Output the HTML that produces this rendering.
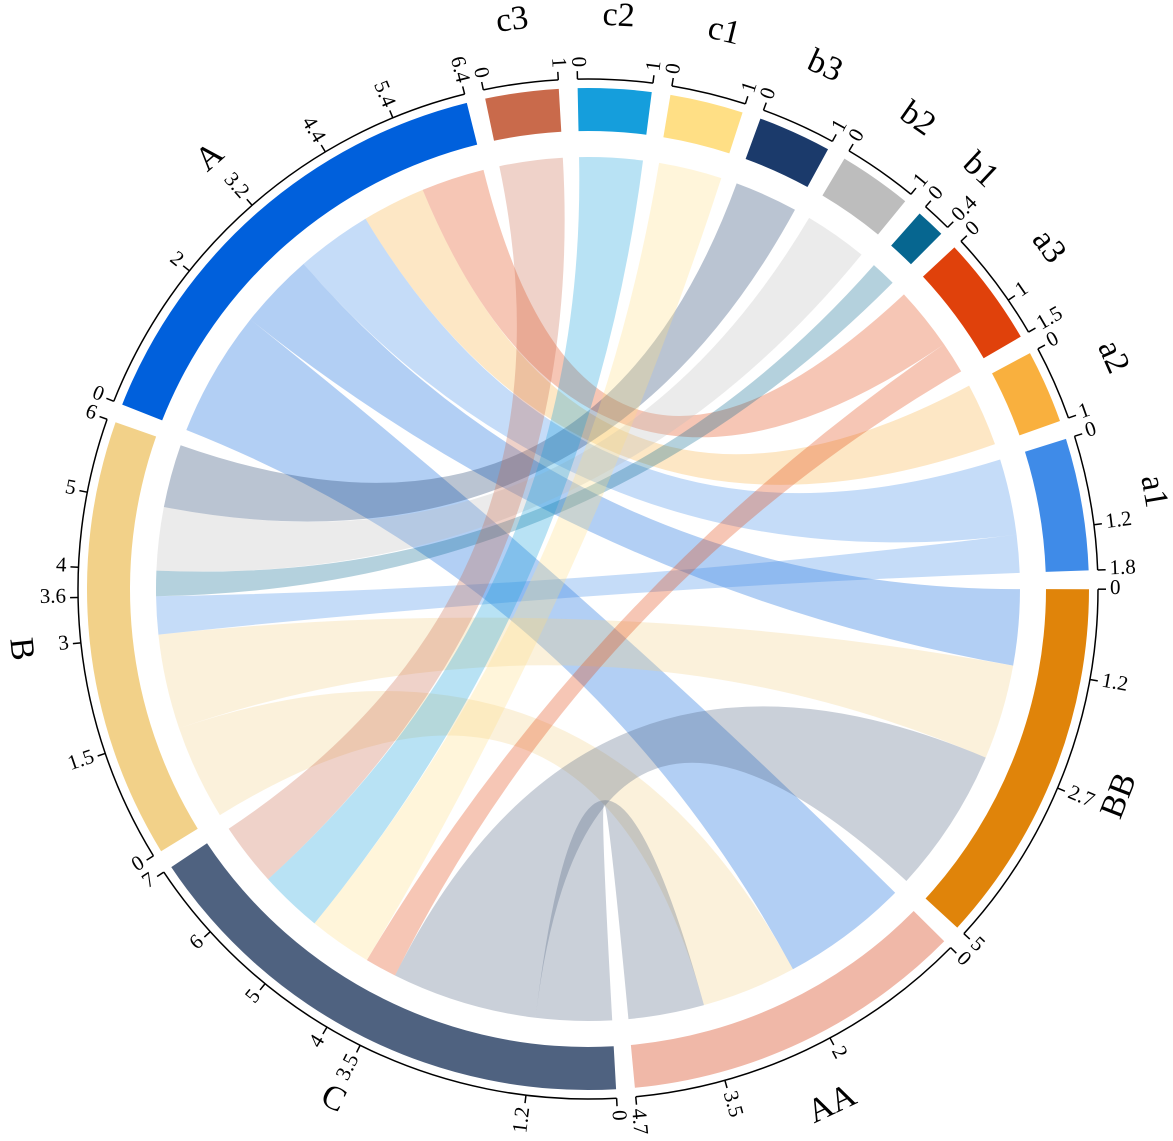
<!DOCTYPE html>
<html><head><meta charset="utf-8">
<style>html,body{margin:0;padding:0;background:#fff;}svg{display:block;}</style>
</head><body>
<svg id="s" width="1173" height="1141" viewBox="0 0 1173 1141" xmlns="http://www.w3.org/2000/svg"></svg>
<script>
const cx=588, cy=589, s=8.5, R0=458, R1=501, RA=510, RC=432;
const secs=[
 ["A",6.4,"#0060dc",[0,2,3.2,4.4,5.4,6.4]],
 ["c3",1,"#c96a4b",[0,1]],
 ["c2",1,"#159edc",[0,1]],
 ["c1",1,"#ffdf85",[0,1]],
 ["b3",1,"#1b3a6b",[0,1]],
 ["b2",1,"#bdbdbd",[0,1]],
 ["b1",0.4,"#066690",[0,0.4]],
 ["a3",1.5,"#e0410b",[0,1,1.5]],
 ["a2",1,"#f9b03e",[0,1]],
 ["a1",1.8,"#3f8be8",[0,1.2,1.8]],
 ["BB",5,"#e0840a",[0,1.2,2.7,5]],
 ["AA",4.7,"#f0b8a8",[0,2,3.5,4.7]],
 ["C",7,"#4f6280",[0,1.2,3.5,4,5,6,7]],
 ["B",6,"#f2d189",[0,1.5,3,3.6,4,5,6]]
];
const S={};
const G=(360-38.8*s)/14;
let a=291.6;
for(const q of secs){S[q[0]]={st:a,n:q[1],col:q[2],ticks:q[3]};a+=q[1]*s+G;}
const rad=d=>d*Math.PI/180;
const P=(r,d)=>[(cx+r*Math.sin(rad(d))).toFixed(2),(cy-r*Math.cos(rad(d))).toFixed(2)];
const ang=(n,v)=>S[n].st+v*s;
let h="";
const ch=[
 ["A",0,2,"AA",0,2,"A"],["A",2,3.2,"BB",0,1.2,"A"],["A",3.2,4.4,"a1",0,1.2,"a1"],
 ["A",4.4,5.4,"a2",0,1,"a2"],["A",5.4,6.4,"a3",0,1,"a3"],
 ["B",0,1.5,"AA",2,3.5,"B"],["B",1.5,3,"BB",1.2,2.7,"B"],["B",3,3.6,"a1",1.2,1.8,"a1"],
 ["B",3.6,4,"b1",0,0.4,"b1"],["B",4,5,"b2",0,1,"b2"],["B",5,6,"b3",0,1,"b3"],
 ["C",0,1.2,"AA",3.5,4.7,"C"],["C",1.2,3.5,"BB",2.7,5,"C"],["C",3.5,4,"a3",1,1.5,"a3"],
 ["C",4,5,"c1",0,1,"c1"],["C",5,6,"c2",0,1,"c2"],["C",6,7,"c3",0,1,"c3"]
];
for(const c of ch){
 const s0=ang(c[0],c[1]),s1=ang(c[0],c[2]),t0=ang(c[3],c[4]),t1=ang(c[3],c[5]);
 const A0=P(RC,s0),A1=P(RC,s1),B0=P(RC,t0),B1=P(RC,t1);
 h+=`<path d="M${A0} A${RC} ${RC} 0 0 1 ${A1} Q${cx} ${cy} ${B0} A${RC} ${RC} 0 0 1 ${B1} Q${cx} ${cy} ${A0}Z" fill="${S[c[6]].col}" fill-opacity="0.3"/>`;
}
for(const q of secs){
 const n=q[0],o=S[n],e=o.st+o.n*s,lg=(e-o.st)>180?1:0;
 const p1=P(R1,o.st),p2=P(R1,e),p3=P(R0,e),p4=P(R0,o.st);
 h+=`<path d="M${p1} A${R1} ${R1} 0 ${lg} 1 ${p2} L${p3} A${R0} ${R0} 0 ${lg} 0 ${p4}Z" fill="${o.col}"/>`;
 h+=`<path d="M${P(RA,o.st)} A${RA} ${RA} 0 ${lg} 1 ${P(RA,e)}" fill="none" stroke="#000" stroke-width="1.5"/>`;
 for(const t of o.ticks){
  const d=ang(n,t);
  h+=`<line x1="${P(RA,d)[0]}" y1="${P(RA,d)[1]}" x2="${P(RA+8,d)[0]}" y2="${P(RA+8,d)[1]}" stroke="#000" stroke-width="1.5"/>`;
  const nd=((d%360)+360)%360;const p=P(522,nd);
  let rot,anc;
  if(nd<180){rot=nd-90;anc="start";}else{rot=nd+90;anc="end";}
  h+=`<text x="${p[0]}" y="${p[1]}" transform="rotate(${rot.toFixed(2)} ${p[0]} ${p[1]})" text-anchor="${anc}" dominant-baseline="middle" font-family="Liberation Serif, serif" font-size="21">${t}</text>`;
 }
 const md=(((o.st+e)/2)%360+360)%360;const p=P(572,md);
 const rr=(md>90&&md<270)?md-180:(md>=270?md-360:md);
 h+=`<text x="${p[0]}" y="${p[1]}" transform="rotate(${rr.toFixed(2)} ${p[0]} ${p[1]})" text-anchor="middle" dominant-baseline="middle" font-family="Liberation Serif, serif" font-size="34">${n}</text>`;
}
document.getElementById("s").innerHTML=h;
</script>
</body></html>
